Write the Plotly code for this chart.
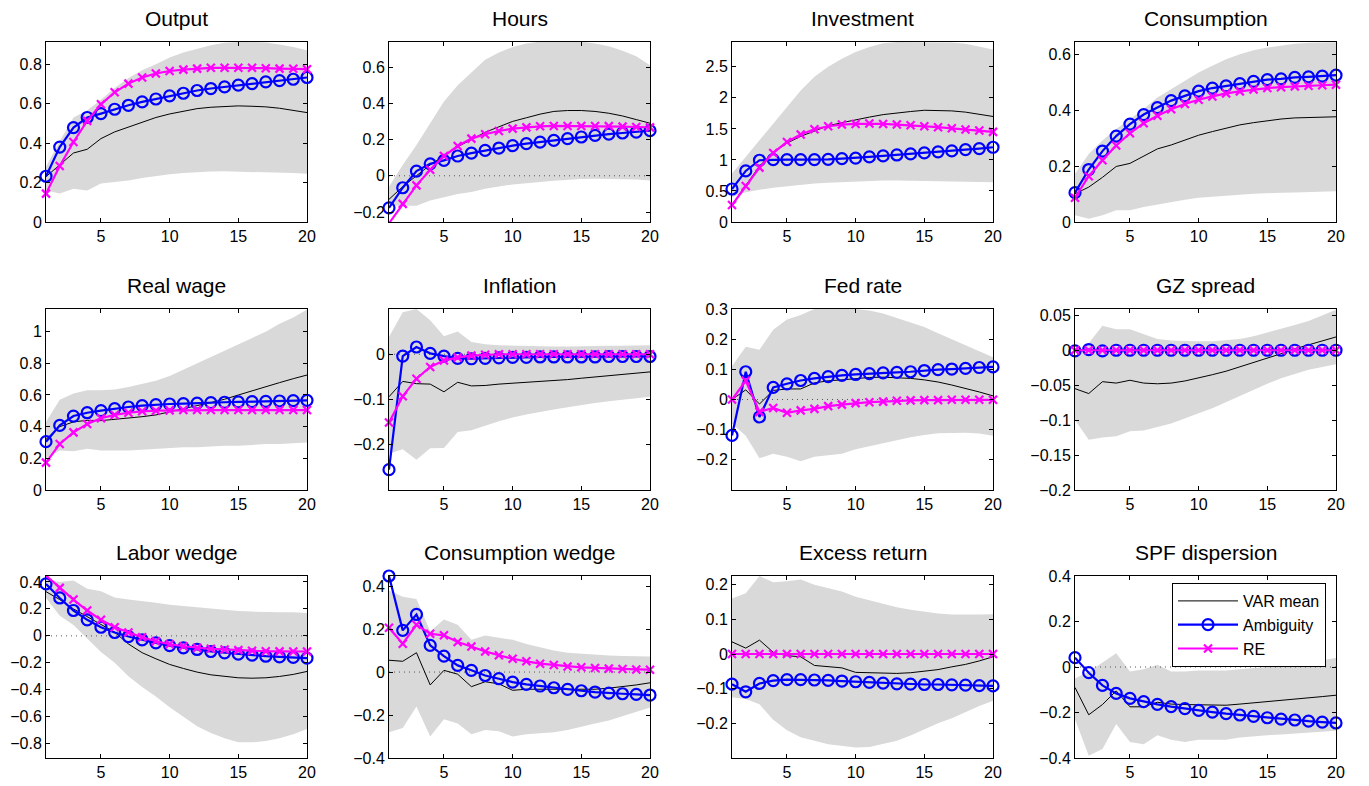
import plotly.graph_objects as go

periods = list(range(1, 21))

titles = ["Output", "Hours", "Investment", "Consumption",
          "Real wage", "Inflation", "Fed rate", "GZ spread",
          "Labor wedge", "Consumption wedge", "Excess return", "SPF dispersion"]

# ---------------- data ----------------
out_var = [0.23, 0.29, 0.35, 0.369, 0.423, 0.457, 0.482, 0.508, 0.53, 0.548, 0.563, 0.575, 0.582, 0.587, 0.589, 0.587, 0.584, 0.577, 0.567, 0.555]
out_amb = [0.232, 0.38, 0.479, 0.53, 0.55, 0.572, 0.592, 0.609, 0.624, 0.64, 0.653, 0.667, 0.677, 0.685, 0.694, 0.702, 0.711, 0.717, 0.724, 0.733]
out_re = [0.144, 0.284, 0.406, 0.513, 0.597, 0.658, 0.702, 0.733, 0.753, 0.766, 0.773, 0.778, 0.782, 0.782, 0.782, 0.782, 0.78, 0.778, 0.777, 0.775]
out_hi = [0.28, 0.41, 0.53, 0.567, 0.62, 0.68, 0.73, 0.77, 0.80, 0.834, 0.86, 0.88, 0.897, 0.909, 0.913, 0.913, 0.91, 0.90, 0.888, 0.871]
out_lo = [0.16, 0.144, 0.169, 0.16, 0.195, 0.203, 0.211, 0.223, 0.234, 0.242, 0.249, 0.254, 0.256, 0.257, 0.257, 0.256, 0.254, 0.25, 0.248, 0.245]

hrs_var = [-0.13, -0.06, 0.0, 0.06, 0.11, 0.16, 0.2, 0.24, 0.27, 0.3, 0.32, 0.34, 0.355, 0.36, 0.36, 0.355, 0.345, 0.33, 0.31, 0.29]
hrs_amb = [-0.177, -0.066, 0.026, 0.066, 0.085, 0.109, 0.125, 0.14, 0.153, 0.166, 0.177, 0.186, 0.195, 0.205, 0.214, 0.223, 0.23, 0.236, 0.241, 0.249]
hrs_re = [-0.262, -0.155, -0.053, 0.033, 0.109, 0.164, 0.205, 0.229, 0.247, 0.26, 0.267, 0.273, 0.275, 0.275, 0.275, 0.275, 0.274, 0.271, 0.269, 0.267]
hrs_hi = [-0.06, 0.06, 0.17, 0.29, 0.41, 0.5, 0.57, 0.64, 0.68, 0.71, 0.73, 0.74, 0.74, 0.74, 0.74, 0.73, 0.715, 0.69, 0.66, 0.61]
hrs_lo = [-0.165, -0.165, -0.165, -0.137, -0.118, -0.1, -0.09, -0.072, -0.059, -0.048, -0.04, -0.035, -0.028, -0.022, -0.018, -0.017, -0.017, -0.018, -0.02, -0.026]

inv_var = [0.28, 0.6, 0.9, 1.12, 1.27, 1.38, 1.47, 1.55, 1.6, 1.65, 1.69, 1.73, 1.76, 1.78, 1.8, 1.8, 1.79, 1.77, 1.74, 1.7]
inv_amb = [0.532, 0.823, 0.995, 1.005, 1.005, 1.005, 1.005, 1.01, 1.02, 1.03, 1.048, 1.065, 1.08, 1.097, 1.113, 1.13, 1.145, 1.167, 1.183, 1.204]
inv_re = [0.274, 0.58, 0.876, 1.113, 1.29, 1.409, 1.495, 1.543, 1.57, 1.58, 1.586, 1.58, 1.57, 1.559, 1.543, 1.527, 1.51, 1.49, 1.473, 1.452]
inv_hi = [0.78, 1.05, 1.32, 1.59, 1.85, 2.12, 2.34, 2.5, 2.63, 2.74, 2.82, 2.88, 2.9, 2.9, 2.9, 2.9, 2.89, 2.87, 2.82, 2.78]
inv_lo = [0.4, 0.48, 0.52, 0.55, 0.575, 0.6, 0.62, 0.634, 0.645, 0.656, 0.66, 0.667, 0.667, 0.667, 0.667, 0.662, 0.656, 0.65, 0.645, 0.64]

con_var = [0.101, 0.125, 0.16, 0.199, 0.21, 0.236, 0.262, 0.276, 0.294, 0.311, 0.324, 0.337, 0.348, 0.356, 0.363, 0.369, 0.373, 0.375, 0.377, 0.377]
con_amb = [0.105, 0.188, 0.254, 0.308, 0.351, 0.385, 0.41, 0.435, 0.452, 0.469, 0.48, 0.488, 0.496, 0.504, 0.51, 0.513, 0.518, 0.52, 0.523, 0.526]
con_re = [0.087, 0.164, 0.221, 0.274, 0.318, 0.354, 0.381, 0.404, 0.423, 0.438, 0.45, 0.461, 0.468, 0.475, 0.48, 0.483, 0.486, 0.488, 0.49, 0.492]
con_hi = [0.173, 0.244, 0.292, 0.333, 0.369, 0.405, 0.446, 0.476, 0.506, 0.536, 0.56, 0.583, 0.601, 0.615, 0.625, 0.633, 0.639, 0.642, 0.644, 0.644]
con_lo = [0.024, 0.012, 0.024, 0.042, 0.042, 0.054, 0.063, 0.071, 0.08, 0.087, 0.092, 0.095, 0.098, 0.101, 0.104, 0.105, 0.106, 0.107, 0.108, 0.11]

rw_var = [0.32, 0.4, 0.43, 0.44, 0.438, 0.445, 0.453, 0.463, 0.474, 0.495, 0.512, 0.533, 0.552, 0.573, 0.6, 0.627, 0.653, 0.678, 0.703, 0.726]
rw_amb = [0.305, 0.408, 0.467, 0.488, 0.501, 0.514, 0.524, 0.533, 0.539, 0.543, 0.545, 0.549, 0.552, 0.554, 0.556, 0.558, 0.56, 0.562, 0.564, 0.566]
rw_re = [0.173, 0.291, 0.364, 0.417, 0.453, 0.474, 0.488, 0.497, 0.501, 0.503, 0.505, 0.505, 0.505, 0.505, 0.505, 0.505, 0.505, 0.505, 0.505, 0.505]
rw_hi = [0.43, 0.57, 0.61, 0.63, 0.63, 0.635, 0.65, 0.67, 0.69, 0.72, 0.76, 0.8, 0.84, 0.88, 0.92, 0.96, 1.0, 1.05, 1.09, 1.14]
rw_lo = [0.2, 0.25, 0.245, 0.26, 0.25, 0.25, 0.25, 0.255, 0.26, 0.265, 0.27, 0.27, 0.275, 0.28, 0.28, 0.285, 0.29, 0.29, 0.295, 0.3]

inf_var = [-0.094, -0.06, -0.065, -0.066, -0.083, -0.062, -0.07, -0.069, -0.066, -0.064, -0.063, -0.06, -0.058, -0.056, -0.053, -0.05, -0.048, -0.045, -0.042, -0.039]
inf_amb = [-0.255, -0.004, 0.016, 0.002, -0.004, -0.009, -0.01, -0.009, -0.008, -0.007, -0.007, -0.006, -0.006, -0.006, -0.006, -0.006, -0.005, -0.005, -0.005, -0.005]
inf_re = [-0.151, -0.093, -0.054, -0.028, -0.014, -0.007, -0.003, -0.001, 0.0, 0.0, 0.0, 0.0, 0.0, 0.0, 0.0, 0.0, 0.0, 0.0, 0.0, 0.0]
inf_hi = [0.038, 0.093, 0.1, 0.075, 0.04, 0.05, 0.027, 0.022, 0.02, 0.019, 0.018, 0.017, 0.017, 0.017, 0.018, 0.018, 0.019, 0.019, 0.02, 0.02]
inf_lo = [-0.22, -0.21, -0.233, -0.208, -0.207, -0.172, -0.168, -0.158, -0.148, -0.14, -0.133, -0.127, -0.122, -0.117, -0.112, -0.108, -0.104, -0.1, -0.097, -0.094]

fed_var = [0.0, 0.032, -0.015, 0.03, 0.035, 0.035, 0.055, 0.062, 0.065, 0.07, 0.073, 0.074, 0.073, 0.07, 0.065, 0.058, 0.048, 0.037, 0.025, 0.012]
fed_amb = [-0.119, 0.092, -0.058, 0.04, 0.052, 0.063, 0.07, 0.076, 0.08, 0.083, 0.086, 0.088, 0.09, 0.092, 0.096, 0.099, 0.101, 0.103, 0.106, 0.108]
fed_re = [0.0, 0.062, -0.041, -0.028, -0.044, -0.036, -0.031, -0.022, -0.017, -0.012, -0.009, -0.007, -0.004, -0.003, -0.002, -0.002, -0.001, -0.001, -0.001, -0.001]
fed_hi = [0.11, 0.175, 0.165, 0.231, 0.265, 0.28, 0.3, 0.3, 0.3, 0.3, 0.295, 0.285, 0.27, 0.255, 0.24, 0.22, 0.2, 0.18, 0.16, 0.14]
fed_lo = [-0.08, -0.12, -0.195, -0.18, -0.19, -0.205, -0.19, -0.185, -0.18, -0.165, -0.155, -0.145, -0.135, -0.125, -0.118, -0.112, -0.11, -0.11, -0.113, -0.12]

gz_var = [-0.055, -0.062, -0.045, -0.047, -0.043, -0.047, -0.048, -0.047, -0.044, -0.04, -0.035, -0.03, -0.024, -0.018, -0.012, -0.005, 0.002, 0.008, 0.014, 0.019]
gz_amb = [-0.001, 0.001, -0.001, 0.0, 0.0, 0.0, 0.0, 0.0, 0.0, 0.0, 0.0, 0.0, 0.0, 0.0, 0.0, 0.0, 0.0, 0.0, 0.0, 0.0]
gz_re = [0.0, 0.0, 0.0, 0.0, 0.0, 0.0, 0.0, 0.0, 0.0, 0.0, 0.0, 0.0, 0.0, 0.0, 0.0, 0.0, 0.0, 0.0, 0.0, 0.0]
gz_hi = [-0.01, 0.01, 0.035, 0.03, 0.03, 0.023, 0.016, 0.014, 0.013, 0.013, 0.013, 0.014, 0.016, 0.02, 0.025, 0.03, 0.036, 0.042, 0.05, 0.058]
gz_lo = [-0.1, -0.128, -0.125, -0.123, -0.116, -0.115, -0.11, -0.105, -0.098, -0.09, -0.083, -0.075, -0.066, -0.057, -0.048, -0.04, -0.034, -0.028, -0.024, -0.02]

lab_var = [0.328, 0.269, 0.2, 0.143, 0.084, 0.027, -0.06, -0.125, -0.17, -0.212, -0.242, -0.269, -0.289, -0.301, -0.311, -0.314, -0.311, -0.301, -0.286, -0.264]
lab_amb = [0.385, 0.281, 0.188, 0.119, 0.064, 0.025, -0.005, -0.03, -0.052, -0.072, -0.089, -0.101, -0.116, -0.126, -0.136, -0.143, -0.151, -0.156, -0.16, -0.165]
lab_re = [0.447, 0.356, 0.269, 0.188, 0.119, 0.064, 0.025, -0.01, -0.04, -0.062, -0.077, -0.089, -0.096, -0.101, -0.106, -0.111, -0.114, -0.115, -0.116, -0.116]
lab_hi = [0.42, 0.4, 0.41, 0.35, 0.33, 0.285, 0.27, 0.26, 0.245, 0.23, 0.22, 0.21, 0.2, 0.19, 0.185, 0.18, 0.175, 0.175, 0.175, 0.17]
lab_lo = [0.28, 0.15, 0.08, -0.02, -0.12, -0.2, -0.3, -0.38, -0.45, -0.53, -0.6, -0.67, -0.72, -0.76, -0.79, -0.79, -0.78, -0.76, -0.73, -0.69]

cw_var = [0.055, 0.05, 0.09, -0.06, 0.008, -0.01, -0.068, -0.045, -0.055, -0.085, -0.08, -0.08, -0.08, -0.082, -0.082, -0.08, -0.075, -0.068, -0.06, -0.05]
cw_amb = [0.447, 0.194, 0.268, 0.124, 0.074, 0.031, 0.008, -0.016, -0.031, -0.047, -0.057, -0.065, -0.073, -0.081, -0.087, -0.093, -0.098, -0.101, -0.104, -0.107]
cw_re = [0.206, 0.132, 0.22, 0.178, 0.171, 0.14, 0.119, 0.096, 0.078, 0.062, 0.05, 0.039, 0.033, 0.026, 0.022, 0.019, 0.016, 0.014, 0.012, 0.011]
cw_hi = [0.38, 0.35, 0.34, 0.19, 0.245, 0.22, 0.15, 0.17, 0.16, 0.15, 0.13, 0.115, 0.1, 0.09, 0.085, 0.08, 0.077, 0.075, 0.073, 0.072]
cw_lo = [-0.28, -0.26, -0.16, -0.3, -0.22, -0.24, -0.29, -0.27, -0.275, -0.3, -0.29, -0.285, -0.28, -0.27, -0.255, -0.24, -0.225, -0.205, -0.185, -0.165]

ex_var = [0.035, 0.017, 0.04, 0.005, -0.005, -0.008, -0.033, -0.037, -0.04, -0.053, -0.054, -0.055, -0.056, -0.054, -0.05, -0.045, -0.037, -0.03, -0.02, -0.008]
ex_amb = [-0.087, -0.109, -0.085, -0.077, -0.074, -0.074, -0.075, -0.076, -0.078, -0.08, -0.082, -0.084, -0.086, -0.087, -0.088, -0.088, -0.089, -0.09, -0.091, -0.092]
ex_re = [0.0, 0.0, 0.0, 0.0, 0.0, 0.0, 0.0, 0.0, 0.0, 0.0, 0.0, 0.0, 0.0, 0.0, 0.0, 0.0, 0.0, 0.0, 0.0, 0.0]
ex_hi = [0.16, 0.175, 0.225, 0.207, 0.21, 0.215, 0.2, 0.19, 0.18, 0.165, 0.155, 0.145, 0.135, 0.128, 0.122, 0.117, 0.114, 0.113, 0.114, 0.115]
ex_lo = [-0.125, -0.13, -0.145, -0.19, -0.22, -0.24, -0.25, -0.26, -0.265, -0.27, -0.268, -0.26, -0.25, -0.235, -0.218, -0.2, -0.185, -0.168, -0.15, -0.135]

spf_var = [-0.09, -0.21, -0.165, -0.105, -0.175, -0.175, -0.155, -0.163, -0.165, -0.167, -0.168, -0.168, -0.163, -0.158, -0.153, -0.148, -0.142, -0.136, -0.13, -0.124]
spf_amb = [0.041, -0.025, -0.081, -0.116, -0.138, -0.152, -0.164, -0.174, -0.183, -0.191, -0.198, -0.205, -0.211, -0.217, -0.223, -0.229, -0.233, -0.238, -0.242, -0.246]
spf_re = None
spf_hi = [-0.05, -0.02, 0.02, 0.06, -0.02, -0.01, 0.01, -0.02, -0.02, -0.015, -0.015, -0.015, -0.01, -0.005, 0.0, 0.01, 0.015, 0.02, 0.03, 0.04]
spf_lo = [-0.23, -0.39, -0.36, -0.25, -0.33, -0.34, -0.3, -0.32, -0.33, -0.32, -0.32, -0.32, -0.31, -0.305, -0.3, -0.297, -0.293, -0.29, -0.285, -0.28]

# y-axis ranges and tick labels
y_ranges = [[0, 0.913], [-0.255, 0.738], [0, 2.9], [0, 0.645],
            [0, 1.143], [-0.3, 0.1], [-0.3, 0.3], [-0.2, 0.059],
            [-0.906, 0.444], [-0.4, 0.447], [-0.3, 0.225], [-0.4, 0.4]]
y_tickvals = [[0, 0.2, 0.4, 0.6, 0.8], [-0.2, 0, 0.2, 0.4, 0.6], [0, 0.5, 1, 1.5, 2, 2.5], [0, 0.2, 0.4, 0.6],
              [0, 0.2, 0.4, 0.6, 0.8, 1], [-0.2, -0.1, 0], [-0.2, -0.1, 0, 0.1, 0.2, 0.3], [-0.2, -0.15, -0.1, -0.05, 0, 0.05],
              [-0.8, -0.6, -0.4, -0.2, 0, 0.2, 0.4], [-0.4, -0.2, 0, 0.2, 0.4], [-0.2, -0.1, 0, 0.1, 0.2], [-0.4, -0.2, 0, 0.2, 0.4]]
y_ticktext = [["0", "0.2", "0.4", "0.6", "0.8"], ["\u22120.2", "0", "0.2", "0.4", "0.6"], ["0", "0.5", "1", "1.5", "2", "2.5"], ["0", "0.2", "0.4", "0.6"],
              ["0", "0.2", "0.4", "0.6", "0.8", "1"], ["\u22120.2", "\u22120.1", "0"], ["\u22120.2", "\u22120.1", "0", "0.1", "0.2", "0.3"], ["\u22120.2", "\u22120.15", "\u22120.1", "\u22120.05", "0", "0.05"],
              ["\u22120.8", "\u22120.6", "\u22120.4", "\u22120.2", "0", "0.2", "0.4"], ["\u22120.4", "\u22120.2", "0", "0.2", "0.4"], ["\u22120.2", "\u22120.1", "0", "0.1", "0.2"], ["\u22120.4", "\u22120.2", "0", "0.2", "0.4"]]
x_tickvals = [5, 10, 15, 20]

panels = [
    (out_var, out_amb, out_re, out_hi, out_lo),
    (hrs_var, hrs_amb, hrs_re, hrs_hi, hrs_lo),
    (inv_var, inv_amb, inv_re, inv_hi, inv_lo),
    (con_var, con_amb, con_re, con_hi, con_lo),
    (rw_var, rw_amb, rw_re, rw_hi, rw_lo),
    (inf_var, inf_amb, inf_re, inf_hi, inf_lo),
    (fed_var, fed_amb, fed_re, fed_hi, fed_lo),
    (gz_var, gz_amb, gz_re, gz_hi, gz_lo),
    (lab_var, lab_amb, lab_re, lab_hi, lab_lo),
    (cw_var, cw_amb, cw_re, cw_hi, cw_lo),
    (ex_var, ex_amb, ex_re, ex_hi, ex_lo),
    (spf_var, spf_amb, spf_re, spf_hi, spf_lo),
]

# ---------------- layout geometry (pixels) ----------------
W, H = 1369, 786
col_px = [(46, 307), (389, 650), (732, 993), (1075, 1336)]
row_px = [(42, 222), (309, 490), (576, 758)]
FONT = "Liberation Sans, Arial, Helvetica, sans-serif"
BAND = "#d9d9d9"
BLUE = "#0000ff"
MAG = "#ff00ff"

fig = go.Figure()
layout = dict(width=W, height=H, margin=dict(l=0, r=0, t=0, b=0),
              paper_bgcolor="white", plot_bgcolor="white",
              font=dict(family=FONT, size=16, color="black"),
              showlegend=True)
annotations = []

for i, (var, amb, re, hi, lo) in enumerate(panels):
    r, c = divmod(i, 4)
    k = "" if i == 0 else str(i + 1)
    xa, ya = "x" + k, "y" + k
    x0, x1 = col_px[c]
    y0, y1 = row_px[r]
    first = (i == 0)

    fig.add_trace(go.Scatter(x=periods + periods[::-1], y=hi + lo[::-1], fill="toself",
                             fillcolor=BAND, line=dict(width=0), mode="lines",
                             hoverinfo="skip", showlegend=False, xaxis=xa, yaxis=ya))
    if y_ranges[i][0] < 0:
        fig.add_trace(go.Scatter(x=[periods[0], periods[-1]], y=[0, 0], mode="lines",
                                 line=dict(color="#555555", width=1, dash="1px,4px"),
                                 hoverinfo="skip", showlegend=False, xaxis=xa, yaxis=ya))
    fig.add_trace(go.Scatter(x=periods, y=var, mode="lines", name="VAR mean",
                             line=dict(color="black", width=1),
                             showlegend=first, legendgroup="var", xaxis=xa, yaxis=ya))
    fig.add_trace(go.Scatter(x=periods, y=amb, mode="lines+markers", name="Ambiguity",
                             line=dict(color=BLUE, width=2.2),
                             marker=dict(symbol="circle-open", size=11, color=BLUE, line=dict(width=2.2, color=BLUE)),
                             showlegend=first, legendgroup="amb", xaxis=xa, yaxis=ya, cliponaxis=False))
    if re is not None:
        fig.add_trace(go.Scatter(x=periods, y=re, mode="lines+markers", name="RE",
                                 line=dict(color=MAG, width=2.2),
                                 marker=dict(symbol="x-thin-open", size=8, color=MAG, line=dict(width=2.2, color=MAG)),
                                 showlegend=first, legendgroup="re", xaxis=xa, yaxis=ya, cliponaxis=False))

    axis_common = dict(showgrid=False, zeroline=False, showline=True, linecolor="black", linewidth=1,
                       mirror="allticks", ticks="inside", ticklen=4, tickcolor="black", tickwidth=1,
                       tickfont=dict(family=FONT, size=16, color="black"), automargin=False, fixedrange=True)
    layout["xaxis" + k] = dict(domain=[x0 / W, x1 / W], range=[1, 20], anchor=ya,
                               tickvals=x_tickvals, ticktext=[str(v) for v in x_tickvals], **axis_common)
    layout["yaxis" + k] = dict(domain=[1 - y1 / H, 1 - y0 / H], range=y_ranges[i], anchor=xa,
                               tickvals=y_tickvals[i], ticktext=y_ticktext[i], **axis_common)
    annotations.append(dict(text=titles[i], x=(x0 + x1) / 2 / W, y=1 - (y0 - 24) / H,
                            xref="paper", yref="paper", xanchor="center", yanchor="middle",
                            showarrow=False, font=dict(family=FONT, size=21, color="black")))

layout["annotations"] = annotations
layout["legend"] = dict(x=1172 / W, y=1 - 583 / H, xanchor="left", yanchor="top",
                        bgcolor="white", bordercolor="black", borderwidth=1,
                        font=dict(family=FONT, size=16, color="black"),
                        itemwidth=60, tracegroupgap=0, traceorder="normal")
fig.update_layout(**layout)
fig.write_html("out.html", config={"displayModeBar": False})
